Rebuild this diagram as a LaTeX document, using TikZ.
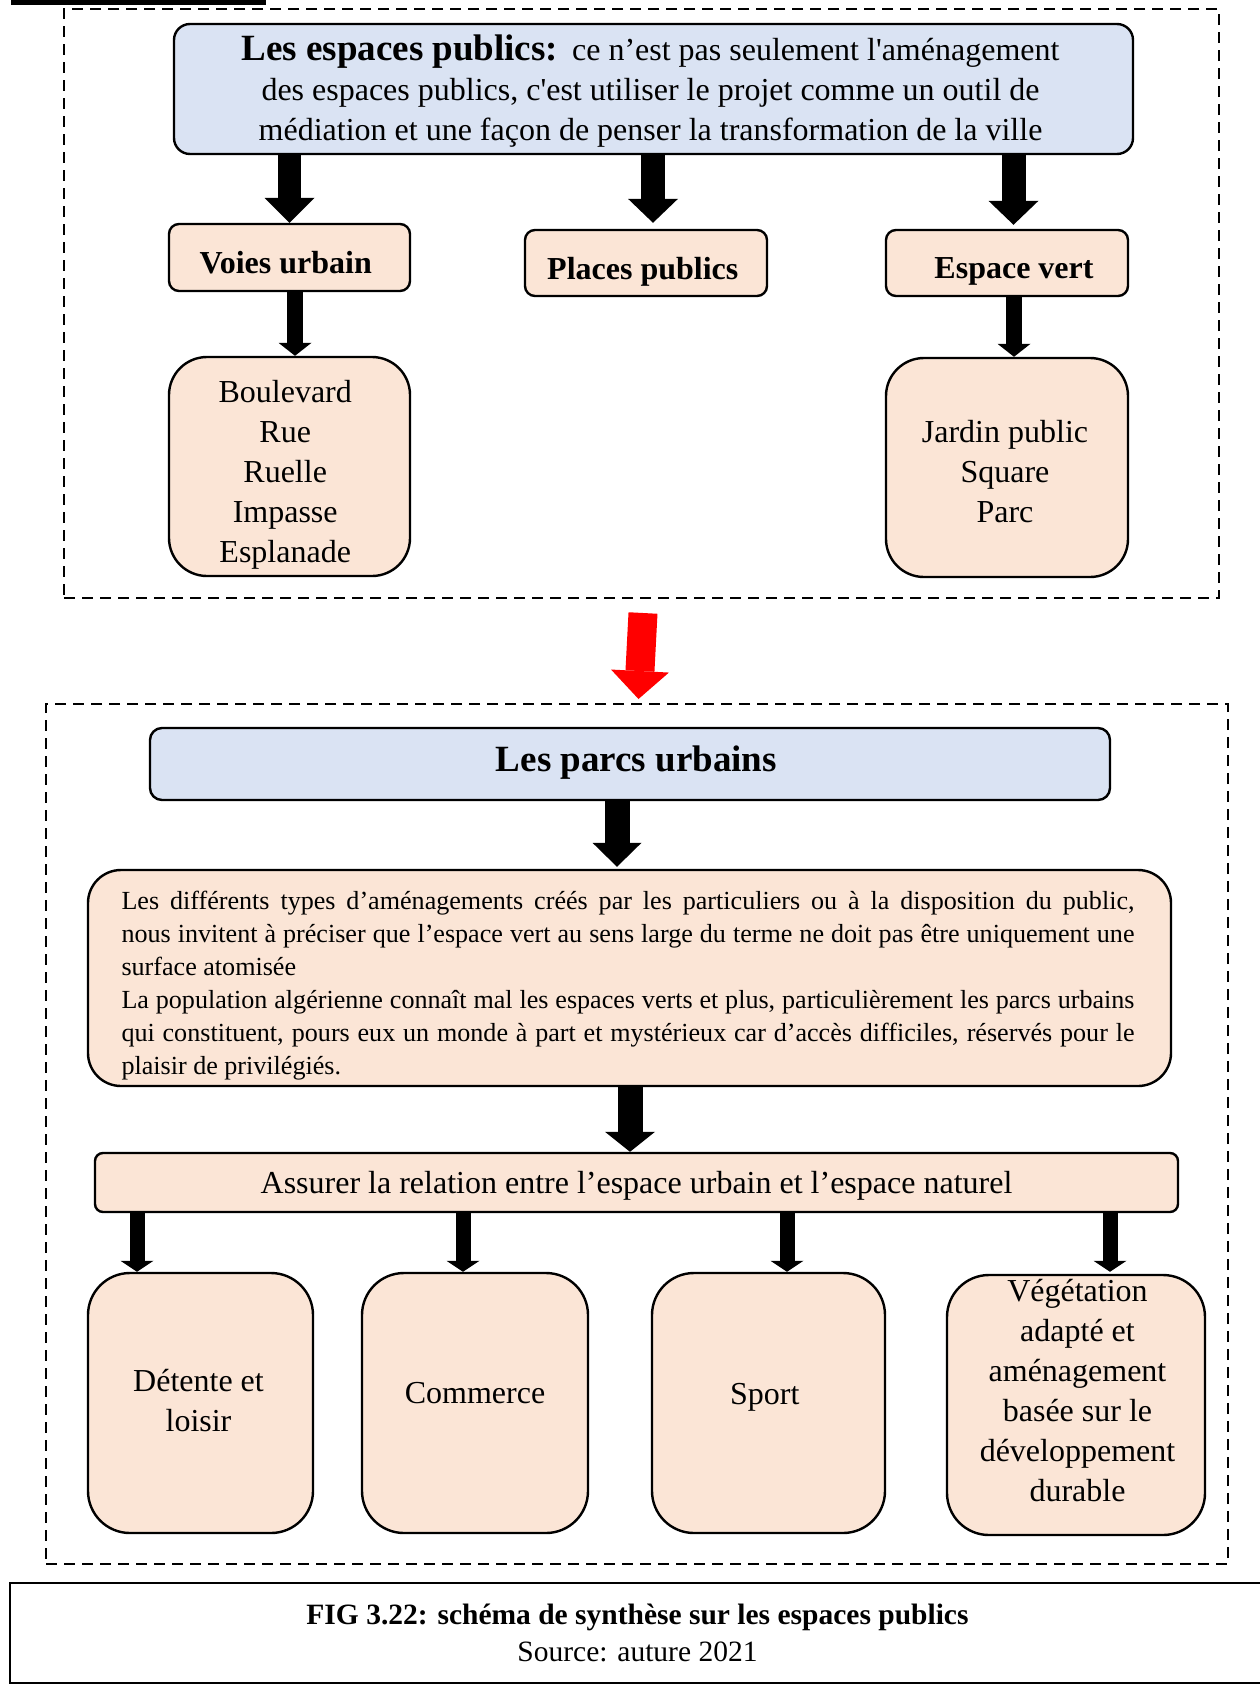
\documentclass[tikz,border=0pt]{standalone}
\usepackage{fontspec}
\setmainfont{Liberation Serif}
\usetikzlibrary{arrows.meta}
\definecolor{bluefill}{HTML}{DAE3F3}
\definecolor{peach}{HTML}{FBE5D6}
\setlength{\parindent}{0pt}
\hyphenpenalty=10000
\exhyphenpenalty=10000
\begin{document}
\begin{tikzpicture}[x=1pt,y=-1pt,
  mybox/.style={draw=black, line width=2.4pt, inner sep=0pt},
  bluebox/.style={mybox, fill=bluefill},
  peachbox/.style={mybox, fill=peach},
  txt/.style={inner sep=0pt, align=center},
  frame/.style={draw=black, line width=2pt, dash pattern=on 11pt off 7pt, inner sep=0pt},
  barrow/.style n args={3}{draw=black, line width=#1, -{Triangle[width=#2, length=#3, line width=0pt]}},
  redarrow/.style n args={3}{draw=red, line width=#1, -{Triangle[width=#2, length=#3, line width=0pt]}},
  f32/.style={font=\fontsize{32}{40}\selectfont},
  b32/.style={font=\fontsize{32}{40}\selectfont\bfseries},
  b37/.style={font=\fontsize{37}{40}\selectfont\bfseries},
]
\path[fill=white, use as bounding box] (0,0) rectangle (1259,1684);

% top-left bar
\fill[black] (11,0) rectangle (266,4.5);

% dashed frames
\node[frame, minimum width=1155pt, minimum height=589pt] (topframe) at (641.5,303.5) {};
\node[frame, minimum width=1182pt, minimum height=860pt] (botframe) at (637,1134) {};

% ---------- upper part ----------
\node[bluebox, rounded corners=16pt, minimum width=959pt, minimum height=130pt] (top) at (653.5,89) {};
\node[txt, f32] (topt) at ([xshift=-3pt,yshift=-2pt]top.center)
  {{\fontsize{37}{40}\selectfont\bfseries Les espaces publics:}\hspace{14pt}ce n’est pas seulement l\textquotesingle aménagement\\
   des espaces publics, c\textquotesingle est utiliser le projet comme un outil de\\
   médiation et une façon de penser la transformation de la ville};

\node[peachbox, rounded corners=10pt, minimum width=241pt, minimum height=67pt] (voies) at (289.5,257.5) {};
\node[txt, b32] (voiest) at ([xshift=-3.8pt,yshift=-5.4pt]voies.center) {Voies urbain};
\node[peachbox, rounded corners=10pt, minimum width=242pt, minimum height=66pt] (places) at (646,263) {};
\node[txt, b32] (placest) at ([xshift=-3.2pt,yshift=-8.6pt]places.center) {Places publics};
\node[peachbox, rounded corners=10pt, minimum width=242pt, minimum height=66pt] (espace) at (1007,263) {};
\node[txt, b32] (espacet) at ([xshift=7pt,yshift=-8.6pt]espace.center) {Espace vert};

\node[peachbox, rounded corners=38pt, minimum width=241pt, minimum height=219pt] (boul) at (289.5,466.5) {};
\node[txt, f32] (boult) at ([xshift=-4.3pt,yshift=-8pt]boul.center) {Boulevard\\Rue\\Ruelle\\Impasse\\Esplanade};
\node[peachbox, rounded corners=38pt, minimum width=242pt, minimum height=219pt] (jardin) at (1007,467.5) {};
\node[txt, f32] (jardint) at ([xshift=-2pt,yshift=-4pt]jardin.center) {Jardin public\\Square\\Parc};

% ---------- lower part ----------
\node[bluebox, rounded corners=12pt, minimum width=960pt, minimum height=72pt] (parcs) at (630,764) {};
\node[txt, b37] (parcst) at ([xshift=6.4pt,yshift=1pt]parcs.center) {Les parcs urbains};

\node[peachbox, rounded corners=33pt, minimum width=1083pt, minimum height=216pt] (texte) at (629.5,978) {};
\node[text width=1013pt, align=justify, inner sep=0pt, font=\fontsize{26.1}{33.1}\selectfont] (textet)
  at ([xshift=-1.5pt,yshift=-7.5pt]texte.center)
  {Les différents types d’aménagements créés par les particuliers ou à la disposition du public,\linebreak
   nous invitent à préciser que l’espace vert au sens large du terme ne doit pas être uniquement une\linebreak
   surface atomisée\par
   La population algérienne connaît mal les espaces verts et plus, particulièrement les parcs urbains\linebreak
   qui constituent, pours eux un monde à part et mystérieux car d’accès difficiles, réservés pour le\linebreak
   plaisir de privilégiés.};

\node[peachbox, rounded corners=8pt, minimum width=1083pt, minimum height=59pt] (assurer) at (636.5,1182.5) {};
\node[txt, f32] (assurert) at ([yshift=-3.2pt]assurer.center) {Assurer la relation entre l’espace urbain et l’espace naturel};

\node[peachbox, rounded corners=42pt, minimum width=225pt, minimum height=260pt] (det) at (200.5,1403) {};
\node[txt, f32] (dett) at ([xshift=-2pt,yshift=2pt]det.center) {Détente et\\loisir};
\node[peachbox, rounded corners=42pt, minimum width=226pt, minimum height=260pt] (comm) at (475,1403) {};
\node[txt, f32] (commt) at ([yshift=10pt]comm.center) {Commerce};
\node[peachbox, rounded corners=42pt, minimum width=233pt, minimum height=260pt] (sport) at (768.5,1403) {};
\node[txt, f32] (sportt) at ([xshift=-3.7pt,yshift=5.4pt]sport.center) {Sport};
\node[peachbox, rounded corners=42pt, minimum width=258pt, minimum height=260pt] (veg) at (1076,1405) {};
\node[txt, f32] (vegt) at ([xshift=1.5pt,yshift=14pt]veg.center)
  {Végétation\\adapté et\\aménagement\\basée sur le\\développement\\durable};

% caption
\node[draw=black, line width=2.5pt, minimum width=1255pt, minimum height=100pt, inner sep=0pt] (caption) at (637.5,1633) {};
\node[txt, font=\fontsize{29.5}{37.5}\selectfont] (captiont) at (caption.center)
  {{\bfseries FIG 3.22: schéma de synthèse sur les espaces publics}\\Source: auture 2021};

% ---------- arrows upper part ----------
\draw[barrow={23pt}{50pt}{25pt}] (top.south -| voies.north) -- (voies.north);
\draw[barrow={24pt}{50pt}{24pt}] ([xshift=7pt]places.north |- top.south) -- ([xshift=7pt,yshift=6pt]places.north);
\draw[barrow={24pt}{50pt}{24pt}] ([xshift=6.5pt]espace.north |- top.south) -- ([xshift=6.5pt,yshift=4pt]espace.north);
\draw[barrow={16pt}{33pt}{13pt}] ([xshift=5.5pt]boul.north |- voies.south) -- ([xshift=5.5pt]boul.north);
\draw[barrow={16pt}{33pt}{13pt}] ([xshift=7pt]jardin.north |- espace.south) -- ([xshift=7pt]jardin.north);

% red arrow between frames
\draw[redarrow={29pt}{58pt}{28pt}] ([xshift=1.5pt,yshift=-14pt]topframe.south) -- ([xshift=1.5pt,yshift=4pt]botframe.north);

% ---------- arrows lower part ----------
\draw[barrow={25pt}{49pt}{24pt}] ([xshift=-12.5pt]texte.north |- parcs.south) -- ([xshift=-12.5pt,yshift=2pt]texte.north);
\draw[barrow={25pt}{50pt}{20pt}] ([xshift=-6.5pt]assurer.north |- texte.south) -- ([xshift=-6.5pt]assurer.north);
\draw[barrow={15pt}{33pt}{11pt}] ([xshift=-63.5pt]det.north |- assurer.south) -- ([xshift=-63.5pt]det.north);
\draw[barrow={15pt}{33pt}{11pt}] ([xshift=-12pt]comm.north |- assurer.south) -- ([xshift=-12pt]comm.north);
\draw[barrow={15pt}{33pt}{11pt}] ([xshift=18.5pt]sport.north |- assurer.south) -- ([xshift=18.5pt]sport.north);
\draw[barrow={15pt}{33pt}{11pt}] ([xshift=34pt]veg.north |- assurer.south) -- ([xshift=34pt,yshift=2pt]veg.north);
\end{tikzpicture}
\end{document}
